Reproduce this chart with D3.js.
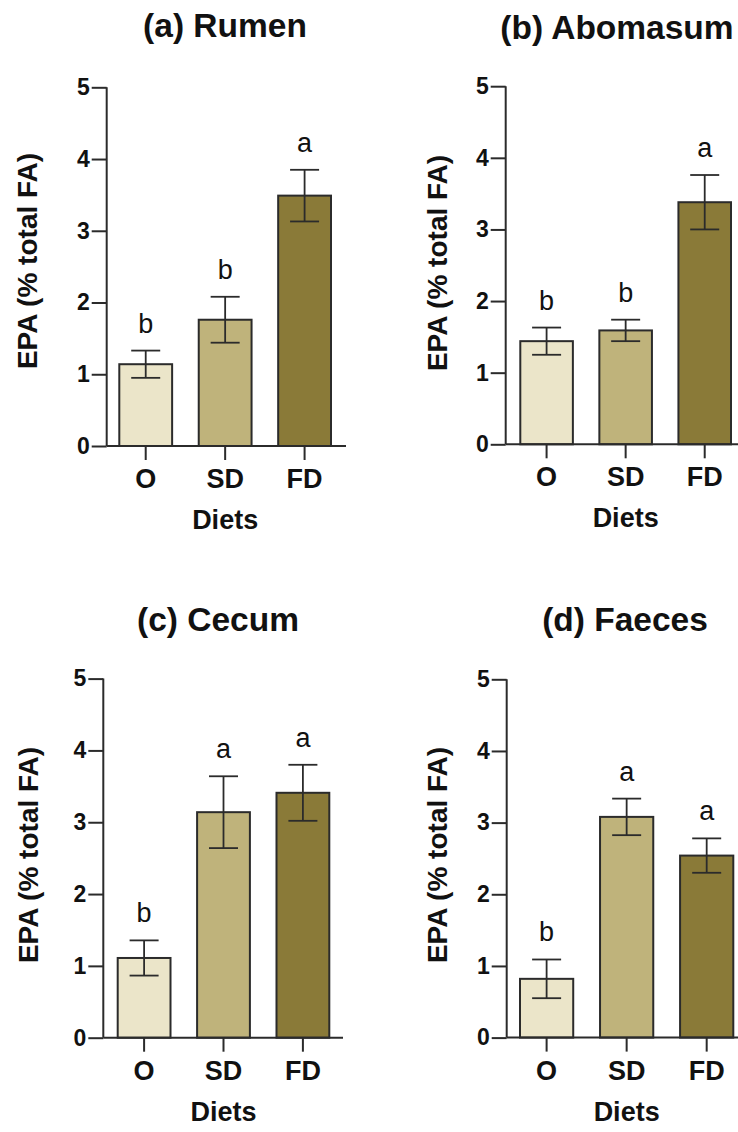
<!DOCTYPE html>
<html>
<head>
<meta charset="utf-8">
<script src="https://cdn.jsdelivr.net/npm/d3@7/dist/d3.min.js"></script>
<style>
  html, body { margin: 0; padding: 0; background: #fff; }
  svg { display: block; }
  text { font-family: "Liberation Sans", Arial, sans-serif; fill: #111; }
</style>
</head>
<body>
<svg id="chart" width="738" height="1132"></svg>
<script>
// ---- data ----
const categories = ["O", "SD", "FD"];
const panelTitles = ["(a) Rumen", "(b) Abomasum", "(c) Cecum", "(d) Faeces"];
const yTicks = [0, 1, 2, 3, 4, 5];
const yLabel = "EPA (% total FA)";
const xLabel = "Diets";

const rumenMean = [1.14, 1.76, 3.49];
const rumenErr = [0.19, 0.32, 0.36];
const rumenLetters = ["b", "b", "a"];

const abomasumMean = [1.44, 1.59, 3.38];
const abomasumErr = [0.19, 0.15, 0.38];
const abomasumLetters = ["b", "b", "a"];

const cecumMean = [1.11, 3.14, 3.41];
const cecumErr = [0.245, 0.50, 0.39];
const cecumLetters = ["b", "a", "a"];

const faecesMean = [0.82, 3.08, 2.54];
const faecesErr = [0.27, 0.255, 0.24];
const faecesLetters = ["b", "a", "a"];

const barColors = ["#ebe5c9", "#bfb37b", "#8a7a38"];

// ---- layout (positions) ----
const layouts = [
  { ax: 106.7, y0: 446.0, y5: 87.3, b0: 119.3, b1: 331.0, axEnd: 346, tx: 225, ty: 37, lx: 37, ly: 261 },
  { ax: 505.7, y0: 444.3, y5: 86.2, b0: 520.3, b1: 731.0, axEnd: 746, tx: 617, ty: 39, lx: 447, ly: 263 },
  { ax: 103.3, y0: 1037.7, y5: 678.6, b0: 117.7, b1: 329.3, axEnd: 343, tx: 218, ty: 631, lx: 38, ly: 855 },
  { ax: 506.7, y0: 1037.6, y5: 679.3, b0: 520.0, b1: 733.3, axEnd: 748, tx: 625, ty: 631, lx: 447, ly: 855 }
];

const panelsData = [
  [rumenMean, rumenErr, rumenLetters],
  [abomasumMean, abomasumErr, abomasumLetters],
  [cecumMean, cecumErr, cecumLetters],
  [faecesMean, faecesErr, faecesLetters]
];

const svg = d3.select("#chart");
const ink = "#2b2b2b";

panelsData.forEach(([means, errs, letters], i) => {
  const L = layouts[i];
  const g = svg.append("g");

  const y = d3.scaleLinear().domain([0, 5]).range([L.y0, L.y5]);
  const x = d3.scaleBand().domain(categories).range([L.b0, L.b1])
    .paddingInner(0.335).paddingOuter(0);

  const rows = categories.map((c, k) => ({ c, m: means[k], e: errs[k], l: letters[k], col: barColors[k] }));

  // bars
  g.selectAll("rect.bar").data(rows).join("rect")
    .attr("class", "bar")
    .attr("x", d => x(d.c))
    .attr("width", x.bandwidth())
    .attr("y", d => y(d.m))
    .attr("height", d => y(0) - y(d.m))
    .attr("fill", d => d.col)
    .attr("stroke", ink)
    .attr("stroke-width", 2);

  // error bars
  const capW = 29;
  const eb = g.selectAll("g.err").data(rows).join("g").attr("class", "err")
    .attr("stroke", ink).attr("stroke-width", 1.8);
  eb.append("line")
    .attr("x1", d => x(d.c) + x.bandwidth() / 2).attr("x2", d => x(d.c) + x.bandwidth() / 2)
    .attr("y1", d => y(d.m + d.e)).attr("y2", d => y(d.m - d.e));
  eb.append("line")
    .attr("x1", d => x(d.c) + x.bandwidth() / 2 - capW / 2).attr("x2", d => x(d.c) + x.bandwidth() / 2 + capW / 2)
    .attr("y1", d => y(d.m + d.e)).attr("y2", d => y(d.m + d.e));
  eb.append("line")
    .attr("x1", d => x(d.c) + x.bandwidth() / 2 - capW / 2).attr("x2", d => x(d.c) + x.bandwidth() / 2 + capW / 2)
    .attr("y1", d => y(d.m - d.e)).attr("y2", d => y(d.m - d.e));

  // significance letters
  g.selectAll("text.sig").data(rows).join("text")
    .attr("class", "sig")
    .attr("x", d => x(d.c) + x.bandwidth() / 2)
    .attr("y", d => y(d.m + d.e) - 18)
    .attr("text-anchor", "middle")
    .attr("font-size", 27)
    .text(d => d.l);

  // y axis
  const yAxis = d3.axisLeft(y).tickValues(yTicks).tickSize(15).tickPadding(2)
    .tickFormat(d3.format("d"));
  const ya = g.append("g").attr("transform", `translate(${L.ax},0)`).call(yAxis);
  ya.select(".domain").attr("stroke", ink).attr("stroke-width", 2)
    .attr("d", `M0,${L.y5}V${L.y0}`);
  ya.selectAll(".tick line").attr("stroke", ink).attr("stroke-width", 2);
  ya.selectAll(".tick text").attr("font-size", 23).attr("font-weight", "bold")
    .attr("fill", "#111").style("font-family", '"Liberation Sans", Arial, sans-serif');

  // x axis
  const xAxis = d3.axisBottom(x).tickSize(14).tickPadding(14);
  const xa = g.append("g").attr("transform", `translate(0,${L.y0})`).call(xAxis);
  xa.select(".domain").attr("stroke", ink).attr("stroke-width", 2)
    .attr("d", `M${L.ax},0H${L.axEnd}`);
  xa.selectAll(".tick line").attr("stroke", ink).attr("stroke-width", 2);
  xa.selectAll(".tick text").attr("font-size", 27).attr("font-weight", "bold")
    .attr("fill", "#111").attr("dy", null).attr("y", 42)
    .style("font-family", '"Liberation Sans", Arial, sans-serif');

  // x label
  g.append("text")
    .attr("x", (L.b0 + L.b1) / 2)
    .attr("y", L.y0 + 83)
    .attr("text-anchor", "middle")
    .attr("font-size", 27).attr("font-weight", "bold")
    .text(xLabel);

  // y label
  g.append("text")
    .attr("transform", `translate(${L.lx},${L.ly}) rotate(-90)`)
    .attr("text-anchor", "middle")
    .attr("font-size", 28).attr("font-weight", "bold")
    .text(yLabel);

  // title
  g.append("text")
    .attr("x", L.tx).attr("y", L.ty)
    .attr("text-anchor", "middle")
    .attr("font-size", 33.5).attr("font-weight", "bold")
    .text(panelTitles[i]);
});
</script>
</body>
</html>
